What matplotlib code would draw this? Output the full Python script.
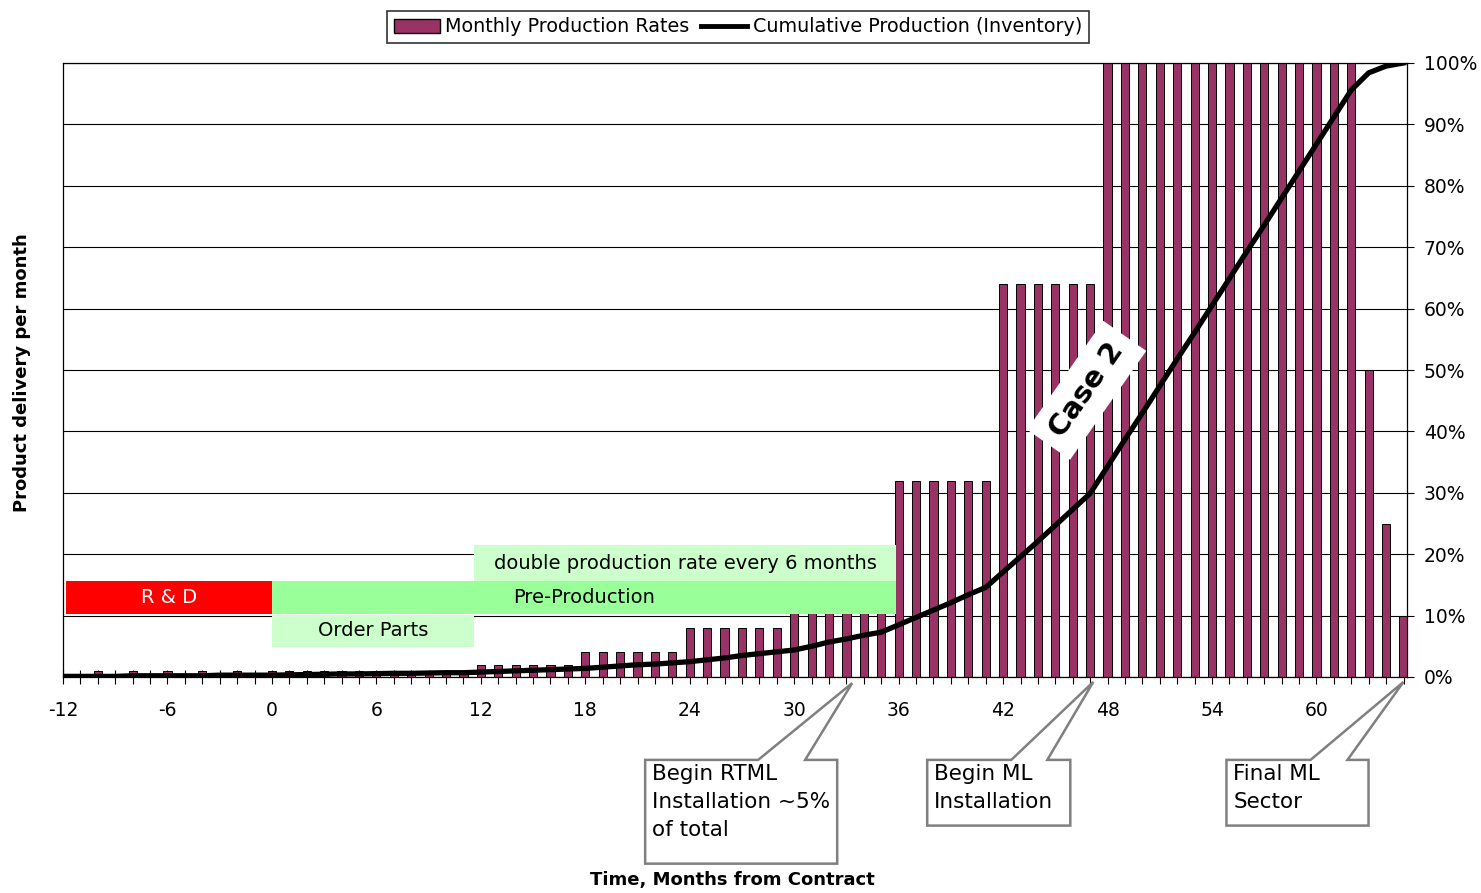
import numpy as np
import matplotlib
matplotlib.use("Agg")
import matplotlib.pyplot as plt
from matplotlib.patches import Rectangle, Polygon
from matplotlib.lines import Line2D

# months from contract (category axis)
months = np.arange(-12, 66)

# monthly production rate, % of peak rate
monthly_rate = [0, 0, 1, 0, 1, 0, 1, 0, 1, 0, 1, 0,
                1, 1, 1, 1, 1, 1, 1, 1, 1, 1, 1, 1,
                2, 2, 2, 2, 2, 2,
                4, 4, 4, 4, 4, 4,
                8, 8, 8, 8, 8, 8,
                16, 16, 16, 16, 16, 16,
                32, 32, 32, 32, 32, 32,
                64, 64, 64, 64, 64, 64,
                100, 100, 100, 100, 100, 100, 100, 100, 100, 100, 100, 100, 100, 100, 100,
                50, 25, 10]

# cumulative production (inventory), % of total
cumulative = [0.1, 0.1, 0.1, 0.1, 0.2, 0.2, 0.2, 0.2, 0.2, 0.3, 0.3, 0.3,
              0.3, 0.35, 0.4, 0.45, 0.5, 0.5, 0.55, 0.6, 0.6, 0.65, 0.7, 0.7,
              0.8, 0.9, 1.0, 1.1, 1.2, 1.3,
              1.4, 1.6, 1.8, 2.0, 2.1, 2.3,
              2.5, 2.8, 3.1, 3.5, 3.8, 4.1,
              4.4, 5.0, 5.7, 6.2, 6.8, 7.3,
              8.5, 9.7, 10.9, 12.1, 13.4, 14.6,
              17.1, 19.6, 22.1, 24.7, 27.3, 29.9,
              34.3, 38.7, 43.0, 47.4, 51.8, 56.1, 60.5, 64.9, 69.3, 73.6, 78.0, 82.4, 86.8, 91.2, 95.6,
              98.4, 99.5, 100.0]

major_ticks = [-12, -6, 0, 6, 12, 18, 24, 30, 36, 42, 48, 54, 60]
pct_ticks = [0, 10, 20, 30, 40, 50, 60, 70, 80, 90, 100]

# phase boxes: label, x0, x1, y0, y1, fill, text colour
phases = [
    ("R & D", -11.8, 0.0, 10.2, 15.6, "#ff0000", "white"),
    ("Pre-Production", 0.0, 35.85, 10.2, 15.6, "#99ff99", "black"),
    ("Order Parts", 0.0, 11.6, 4.9, 10.1, "#ccffcc", "black"),
    ("double production rate every 6 months", 11.6, 35.85, 15.6, 21.5, "#ccffcc", "black"),
]

# callouts: text, box x0, x1, y0(top), y1(bottom), wedge x0, x1, tip x, tip y
callouts = [
    ("Begin RTML\nInstallation ~5%\nof total", 21.44, 32.47, -13.5, -30.4, 27.93, 30.63, 33.33, -1.0),
    ("Begin ML\nInstallation", 37.64, 45.86, -13.5, -24.2, 42.47, 44.54, 47.18, -0.8),
    ("Final ML\nSector", 54.83, 62.99, -13.5, -24.2, 59.66, 61.78, 65.0, -0.8),
]

bar_color = "#993366"

fig = plt.figure(figsize=(14.81, 8.93), dpi=100)
ax = fig.add_axes([63 / 1481, 216 / 893, 1344 / 1481, 614 / 893])

ax.bar(months, monthly_rate, width=0.47, color=bar_color, edgecolor="black",
       linewidth=0.7, zorder=2)
ax.plot(months, cumulative, color="black", linewidth=3.8, zorder=6)

ax.set_xlim(-12, 65.2)
ax.set_ylim(0, 100)
ax.set_axisbelow(True)
ax.grid(axis="y", color="black", linewidth=0.8)

ax.set_xticks(major_ticks)
ax.set_xticks(months, minor=True)
ax.set_xticklabels([str(t) for t in major_ticks])
ax.tick_params(axis="x", which="both", direction="inout", length=10, width=0.8,
               labelsize=13.5, pad=12)

ax.yaxis.tick_right()
ax.set_yticks(pct_ticks)
ax.set_yticklabels([f"{p}%" for p in pct_ticks])
ax.tick_params(axis="y", direction="out", length=5, width=0.8, labelsize=13.5, pad=7)

for s in ax.spines.values():
    s.set_color("black")
    s.set_linewidth(0.9)

# phase boxes
for label, x0, x1, y0, y1, fc, tc in phases:
    ax.add_patch(Rectangle((x0, y0), x1 - x0, y1 - y0, facecolor=fc,
                           edgecolor="none", zorder=4))
    ax.text((x0 + x1) / 2, (y0 + y1) / 2, label, ha="center", va="center",
            fontsize=14, color=tc, zorder=5)

# rotated case label
ax.text(46.8, 46.7, "Case 2", rotation=55, ha="center", va="center",
        fontsize=21, fontweight="bold", zorder=7,
        bbox=dict(boxstyle="square,pad=0.42", facecolor="white", edgecolor="none"))

# callouts under the time axis
for text, bx0, bx1, by0, by1, wx0, wx1, tx, ty in callouts:
    verts = [(bx0, by0), (wx0, by0), (tx, ty), (wx1, by0), (bx1, by0),
             (bx1, by1), (bx0, by1)]
    ax.add_patch(Polygon(verts, closed=True, facecolor="white", edgecolor="#808080",
                         linewidth=1.8, clip_on=False, zorder=8))
    ax.text(bx0 + 0.4, by0 - 0.6, text, ha="left", va="top", fontsize=15.5,
            linespacing=1.5, clip_on=False, zorder=9)

# legend
handles = [Rectangle((0, 0), 1, 1, facecolor=bar_color, edgecolor="black", linewidth=1),
           Line2D([0], [0], color="black", linewidth=3.5)]
leg = fig.legend(handles, ["Monthly Production Rates", "Cumulative Production (Inventory)"],
                 loc="center", bbox_to_anchor=(738 / 1481, 1 - 27 / 893), ncol=2,
                 fontsize=13.8, frameon=True, fancybox=False, handlelength=2.4,
                 handletextpad=0.3, columnspacing=0.6, borderpad=0.35)
leg.get_frame().set_edgecolor("black")
leg.get_frame().set_linewidth(1.2)

fig.text(22 / 1481, 1 - 373 / 893, "Product delivery per month", rotation=90,
         ha="center", va="center", fontsize=13, fontweight="bold")
fig.text(732 / 1481, 1 - 880 / 893, "Time, Months from Contract",
         ha="center", va="center", fontsize=13, fontweight="bold")

fig.savefig("out.png", dpi=100, facecolor="white")
